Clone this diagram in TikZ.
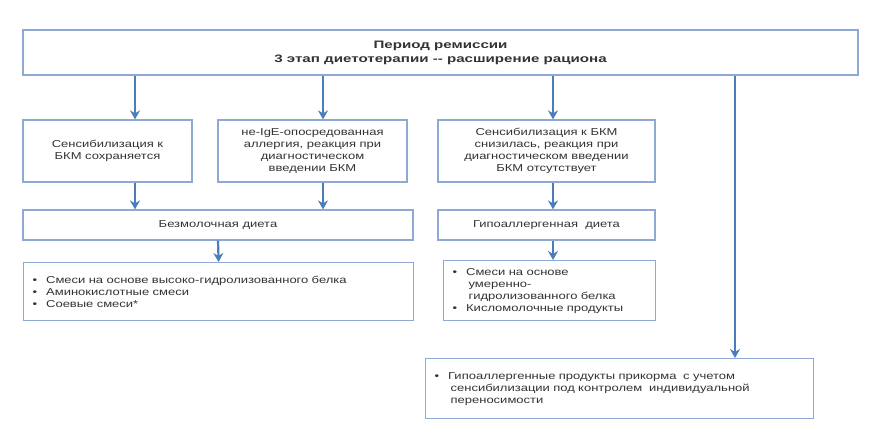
\documentclass[tikz,border=0pt]{standalone}
\usepackage{fontspec}
\setmainfont{Liberation Sans}
\newfontfamily\widefont[FakeStretch=1.3]{Liberation Sans}
\newfontfamily\widetop[FakeStretch=1.4]{Liberation Sans}
\usetikzlibrary{arrows.meta}
\definecolor{bx}{HTML}{8EA9D3}
\definecolor{ar}{HTML}{4A7EBB}
\tikzset{
 box/.style={draw=bx,line width=1.2pt,fill=white,inner sep=2pt,font=\widefont\fontsize{10}{12}\selectfont,text=black!80},
 arr/.style={draw=ar,line width=2.2pt,-{Stealth[length=9pt,width=10pt]}}
}
\begin{document}
\begin{tikzpicture}[x=1pt,y=-1pt]
\useasboundingbox (0,0) rectangle (874,431);
\node[box,minimum width=835,minimum height=45,font=\widetop\fontsize{10.8}{14}\selectfont\bfseries,align=center] (top) at (440.5,52.5) {Период ремиссии\\3 этап диетотерапии -- расширение рациона};
\node[box,minimum width=169,minimum height=62,align=center] (a) at (107.5,151) {Сенсибилизация к\\БКМ сохраняется};
\node[box,minimum width=189,minimum height=62,align=center] (b) at (312.5,151) {не-IgE-опосредованная\\аллергия, реакция при\\диагностическом\\введении БКМ};
\node[box,minimum width=217,minimum height=62,align=center] (c) at (546.5,151) {Сенсибилизация к БКМ\\снизилась, реакция при\\диагностическом введении\\БКМ отсутствует};
\node[box,minimum width=390,minimum height=30] (d) at (218,225) {Безмолочная диета};
\node[box,minimum width=217,minimum height=30] (e) at (546.5,225) {Гипоаллергенная\ \ диета};
\node[box,minimum width=390,minimum height=58,align=left,anchor=north west,text width=380] (g) at (23,262) {\hspace*{4pt}•\hspace{9pt}Смеси на основе высоко-гидролизованного белка\\\hspace*{4pt}•\hspace{9pt}Аминокислотные смеси\\\hspace*{4pt}•\hspace{9pt}Соевые смеси*\\[6pt]};
\node[box,minimum width=212,minimum height=60,align=left,anchor=north west,text width=202] (f) at (443,260) {\hspace*{4pt}•\hspace{9pt}Смеси на основе\\\hspace*{20pt}умеренно-\\\hspace*{20pt}гидролизованного белка\\\hspace*{4pt}•\hspace{9pt}Кисломолочные продукты};
\node[box,minimum width=388,minimum height=60,align=left,anchor=north west,text width=378] (h) at (425,358) {\hspace*{4pt}•\hspace{9pt}Гипоаллергенные продукты прикорма\ \ с учетом\\\hspace*{20pt}сенсибилизации под контролем\ \ индивидуальной\\\hspace*{20pt}переносимости\\[4pt]};
\coordinate (x1) at (135,0);
\coordinate (x2) at (323,0);
\coordinate (x3) at (553,0);
\coordinate (x4) at (735,0);
\draw[arr] (top.south -| x1) -- (a.north -| x1);
\draw[arr] (top.south -| x2) -- (b.north -| x2);
\draw[arr] (top.south -| x3) -- (c.north -| x3);
\draw[arr] (top.south -| x4) -- (h.north -| x4);
\draw[arr] (a.south -| x1) -- (d.north -| x1);
\draw[arr] (b.south -| x2) -- (d.north -| x2);
\draw[arr] (c.south -| x3) -- (e.north -| x3);
\draw[arr] (e.south -| x3) -- (f.north -| x3);
\draw[arr] (d.south) -- (g.north);
\end{tikzpicture}
\end{document}
